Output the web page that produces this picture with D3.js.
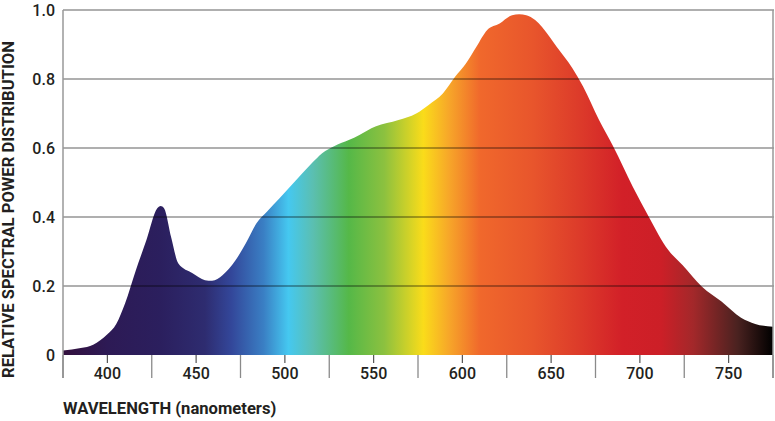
<!DOCTYPE html>
<html>
<head>
<meta charset="utf-8">
<script src="https://cdn.jsdelivr.net/npm/d3@7"></script>
<style>
  html, body { margin: 0; padding: 0; background: #fff; }
  svg { display: block; }
  text { font-family: Roboto, "Noto Sans", sans-serif; fill: #231f20; }
</style>
</head>
<body>
<svg id="chart" width="775" height="421"></svg>
<script>
// ---- data ----
const wavelengths = [375, 385, 392, 400, 405, 410, 416, 422, 428, 430, 432, 436, 440, 448, 455, 459, 465, 472, 478, 484, 490, 497, 506, 515, 521, 528, 536, 542, 551, 564, 574, 581, 589, 596, 602, 608, 614, 621, 628, 632, 636, 641, 649, 653, 662, 668, 677, 685, 696, 705, 716, 724, 735, 746, 757, 765, 775];
const intensity   = [0.013, 0.02, 0.03, 0.06, 0.09, 0.15, 0.245, 0.333, 0.425, 0.432, 0.425, 0.34, 0.265, 0.237, 0.217, 0.215, 0.232, 0.273, 0.324, 0.382, 0.416, 0.454, 0.505, 0.555, 0.585, 0.606, 0.623, 0.638, 0.662, 0.681, 0.70, 0.725, 0.758, 0.807, 0.845, 0.894, 0.942, 0.961, 0.985, 0.988, 0.985, 0.971, 0.923, 0.894, 0.831, 0.778, 0.681, 0.604, 0.488, 0.401, 0.304, 0.261, 0.198, 0.155, 0.108, 0.09, 0.082];
const majorTicks = [400, 450, 500, 550, 600, 650, 700, 750];
const minorTicks = [375, 425, 475, 525, 575, 625, 675, 725, 775];
const yTicks = [0, 0.2, 0.4, 0.6, 0.8, 1.0];
const yTickLabels = ["0", "0.2", "0.4", "0.6", "0.8", "1.0"];
// spectrum colour stops (wavelength, colour)
const stopWavelengths = [375, 400, 430, 455, 470, 488, 502, 516, 536, 556, 578, 592, 610, 640, 665, 690, 712, 730, 755, 775];
const stopColors = ["#33103d", "#2d1a55", "#2b1f5e", "#2e2c70", "#33479a", "#3a7fc4", "#45c8f0", "#5bbfb0", "#55b848", "#8cc13f", "#fadc1a", "#f7a829", "#f0682c", "#e8552c", "#dd3c2a", "#d22028", "#cc1f27", "#a3282a", "#4a2220", "#000000"];

// ---- layout ----
const svg = d3.select("#chart");
const x = d3.scaleLinear().domain([375, 775]).range([63, 773]);
const y = d3.scaleLinear().domain([0, 1]).range([355, 10]);

const defs = svg.append("defs");
const grad = defs.append("linearGradient")
  .attr("id", "spec")
  .attr("gradientUnits", "userSpaceOnUse")
  .attr("x1", x(375)).attr("x2", x(775)).attr("y1", 0).attr("y2", 0);
grad.selectAll("stop").data(stopWavelengths).enter().append("stop")
  .attr("offset", d => (d - 375) / 400)
  .attr("stop-color", (d, i) => stopColors[i]);

const pts = wavelengths.map((w, i) => [w, intensity[i]]);
const area = d3.area()
  .x(d => x(d[0]))
  .y0(y(0))
  .y1(d => y(d[1]))
  .curve(d3.curveMonotoneX);

svg.append("path").datum(pts).attr("d", area).attr("fill", "url(#spec)");

// gridlines (on top of area)
svg.append("g").selectAll("line").data(yTicks.filter(d => d > 0)).enter().append("line")
  .attr("x1", x(375)).attr("x2", x(775) + 1)
  .attr("y1", d => y(d)).attr("y2", d => y(d))
  .attr("stroke", "#000").attr("stroke-opacity", 0.42).attr("stroke-width", 1.5);

// y axis line and right border
svg.append("line").attr("x1", x(375)).attr("x2", x(375)).attr("y1", y(1)).attr("y2", 378)
  .attr("stroke", "#999").attr("stroke-width", 1.5);
svg.append("line").attr("x1", x(775)).attr("x2", x(775)).attr("y1", y(1)).attr("y2", 378)
  .attr("stroke", "#999").attr("stroke-width", 1.5);

// x ticks
svg.append("g").selectAll("line").data(minorTicks).enter().append("line")
  .attr("x1", d => x(d)).attr("x2", d => x(d)).attr("y1", y(0)).attr("y2", 378)
  .attr("stroke", "#8a8a8a").attr("stroke-width", 1.3);
svg.append("g").selectAll("line").data(majorTicks).enter().append("line")
  .attr("x1", d => x(d)).attr("x2", d => x(d)).attr("y1", y(0)).attr("y2", 363)
  .attr("stroke", "#555").attr("stroke-width", 1.2);
svg.append("g").selectAll("text").data(majorTicks).enter().append("text")
  .attr("x", d => x(d)).attr("y", 379)
  .attr("text-anchor", "middle")
  .attr("font-size", 16).attr("font-weight", 500)
  .text(d => d);

// y tick labels
svg.append("g").selectAll("text").data(yTicks).enter().append("text")
  .attr("x", 55).attr("y", d => y(d) + 5.5)
  .attr("text-anchor", "end")
  .attr("font-size", 16).attr("font-weight", 500)
  .text((d, i) => yTickLabels[i]);

// axis titles
svg.append("text")
  .attr("transform", "translate(14,378) rotate(-90)")
  .attr("text-anchor", "start")
  .attr("font-size", 16.6).attr("font-weight", 700)
  .text("RELATIVE SPECTRAL POWER DISTRIBUTION");
svg.append("text")
  .attr("x", 63).attr("y", 414)
  .attr("font-size", 16.6).attr("font-weight", 700)
  .text("WAVELENGTH (nanometers)");
</script>
</body>
</html>
